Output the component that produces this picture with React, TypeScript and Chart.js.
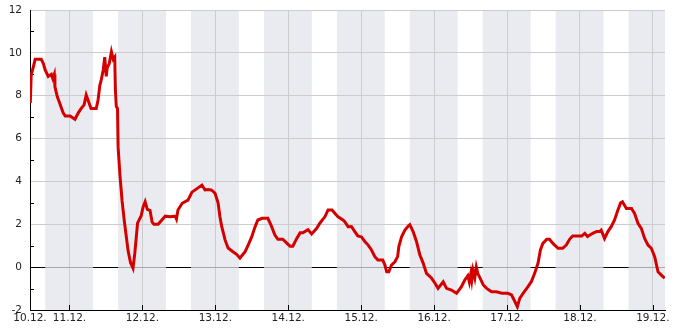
import React, { useEffect, useRef } from 'react';
import { Chart, registerables } from 'chart.js';

Chart.register(...registerables);

// time in hours from 10.12. 00:00
const hours = [
  11.1, 11.4, 12.1, 12.7, 14.7, 15.4, 16.0, 17.0, 18.0, 18.5, 19.0, 19.2, 20.0, 20.9, 21.9, 22.6,
  24.2, 25.8, 26.9, 27.8, 28.8, 29.5, 30.7, 31.1, 32.8, 33.4, 34.0, 34.4, 35.1, 35.6, 36.1, 36.4,
  37.1, 37.8, 38.4, 38.9, 39.1, 39.4, 39.8, 40.0, 40.6, 41.3, 42.0, 42.7, 43.3, 44.1, 44.9, 45.5,
  46.4, 47.6, 48.2, 48.9, 49.6, 50.5, 51.2, 51.8, 53.2, 54.4, 55.5, 57.1, 58.8, 59.2, 59.7, 61.1,
  63.0, 64.3, 66.3, 67.6, 68.6, 69.6, 70.6, 71.2, 71.9, 72.9, 73.5, 74.1, 75.2, 76.2, 77.8, 79.0,
  80.1, 81.1, 81.8, 82.8, 84.0, 85.1, 86.0, 87.4, 89.3, 90.5, 91.6, 92.6, 94.2, 95.5, 96.6, 97.5,
  98.8, 99.9, 100.8, 102.5, 103.7, 105.3, 106.4, 108.1, 109.1, 110.4, 111.4, 112.3, 114.0, 114.6,
  115.7, 116.8, 117.9, 118.9, 120.1, 121.2, 122.3, 123.4, 124.5, 125.5, 127.1, 127.8, 128.4, 129.1,
  130.0, 131.1, 132.0, 132.4, 133.3, 134.4, 135.5, 136.0, 137.1, 138.2, 139.3, 140.4, 141.5, 143.2,
  144.3, 145.3, 147.0, 148.1, 149.7, 151.4, 153.0, 154.1, 155.1, 155.6, 156.1, 156.4, 156.8, 157.4,
  157.9, 158.4, 159.1, 160.2, 161.3, 162.9, 164.5, 166.3, 168.3, 169.5, 170.6, 171.4, 172.2, 173.3,
  174.9, 176.0, 177.1, 178.2, 179.0, 179.8, 181.1, 182.0, 183.1, 184.8, 186.3, 187.5, 188.6, 189.6,
  192.6, 193.6, 194.5, 196.2, 197.5, 198.5, 199.0, 200.1, 201.2, 202.3, 203.4, 204.5, 205.4, 206.0,
  207.3, 209.0, 210.0, 211.1, 212.2, 213.3, 214.4, 215.5, 216.6, 217.7, 218.8, 219.9,
];

const values = [
  7.66, 8.97, 9.35, 9.7, 9.7, 9.5, 9.2, 8.9, 9.0, 8.8, 9.0, 8.42, 7.95, 7.6, 7.2, 7.05,
  7.05, 6.9, 7.2, 7.4, 7.57, 8.03, 7.55, 7.4, 7.4, 7.8, 8.5, 8.7, 9.2, 9.8, 8.9, 9.3,
  9.5, 10.05, 9.7, 9.8, 8.3, 7.5, 7.4, 5.6, 4.3, 3.1, 2.2, 1.42, 0.75, 0.2, -0.05, 0.65,
  2.05, 2.4, 2.8, 3.05, 2.7, 2.65, 2.1, 2.0, 2.0, 2.2, 2.38, 2.35, 2.38, 2.25, 2.67, 2.98,
  3.13, 3.5, 3.7, 3.83, 3.6, 3.62, 3.6, 3.55, 3.45, 3.0, 2.36, 1.9, 1.27, 0.89, 0.72, 0.6,
  0.42, 0.6, 0.72, 1.03, 1.42, 1.89, 2.2, 2.28, 2.28, 1.9, 1.5, 1.3, 1.3, 1.12, 0.98, 0.98,
  1.34, 1.6, 1.6, 1.75, 1.55, 1.8, 2.05, 2.36, 2.67, 2.67, 2.5, 2.36, 2.2, 2.12,
  1.89, 1.9, 1.66, 1.46, 1.41, 1.2, 1.03, 0.8, 0.49, 0.33, 0.33, 0.1, -0.22, -0.22,
  0.1, 0.25, 0.49, 0.96, 1.42, 1.73, 1.92, 1.98, 1.66, 1.2, 0.58, 0.19, -0.29, -0.52,
  -0.75, -0.99, -0.68, -0.99, -1.07, -1.22, -0.91, -0.6, -0.4, -0.7, -0.3, -0.6, -0.14, -0.5,
  0.0, -0.3, -0.5, -0.83, -0.99, -1.15, -1.15, -1.22, -1.22, -1.3, -1.61, -1.85, -1.46, -1.22,
  -0.91, -0.68, -0.29, 0.18, 0.8, 1.11, 1.3, 1.3, 1.11, 0.88, 0.88, 1.03, 1.3, 1.45,
  1.45, 1.58, 1.43, 1.58, 1.66, 1.66, 1.73, 1.34, 1.66, 1.89, 2.2, 2.67, 3.0, 3.05,
  2.74, 2.74, 2.5, 2.05, 1.81, 1.34, 1.03, 0.88, 0.49, -0.22, -0.37, -0.52,
];

const xTickHours = [11, 24, 48, 72, 96, 120, 144, 168, 192, 216];
const xTickLabels = ['10.12.', '11.12.', '12.12.', '13.12.', '14.12.', '15.12.', '16.12.', '17.12.', '18.12.', '19.12.'];
const yMinorTicks = [-1, 1, 3, 5, 7, 9, 11];
const nightDays = [0, 1, 2, 3, 4, 5, 6, 7, 8, 9];
const nightStartHour = 16;
const nightEndHour = 7.75;

const X_MIN = 11;
const X_MAX = 220;

const bandColor = '#eaebf0';

const bandsPlugin = {
  id: 'nightBands',
  beforeDraw(chart: any) {
    const { ctx, chartArea } = chart;
    const xs = chart.scales.x;
    ctx.save();
    ctx.fillStyle = bandColor;
    nightDays.forEach((d) => {
      const s = Math.max(d * 24 + nightStartHour, X_MIN);
      const e = Math.min((d + 1) * 24 + nightEndHour, X_MAX);
      if (e <= s) return;
      const x1 = xs.getPixelForValue(s);
      const x2 = xs.getPixelForValue(e);
      ctx.fillRect(x1, chartArea.top, x2 - x1, chartArea.bottom - chartArea.top);
    });
    ctx.restore();
  },
  beforeDatasetsDraw(chart: any) {
    const { ctx, chartArea } = chart;
    const xs = chart.scales.x;
    const ys = chart.scales.y;
    ctx.save();
    // zero line appears grey inside the night bands
    const y0 = Math.round(ys.getPixelForValue(0)) + 0.5;
    ctx.strokeStyle = '#a8a8ac';
    ctx.lineWidth = 1;
    nightDays.forEach((d) => {
      const s = Math.max(d * 24 + nightStartHour, X_MIN);
      const e = Math.min((d + 1) * 24 + nightEndHour, X_MAX);
      if (e <= s) return;
      ctx.beginPath();
      ctx.moveTo(xs.getPixelForValue(s), y0);
      ctx.lineTo(xs.getPixelForValue(e), y0);
      ctx.stroke();
    });
    // tick marks drawn inward
    ctx.strokeStyle = '#000';
    ctx.beginPath();
    yMinorTicks.forEach((v) => {
      const y = Math.round(ys.getPixelForValue(v)) + 0.5;
      ctx.moveTo(chartArea.left, y);
      ctx.lineTo(chartArea.left + 4, y);
    });
    xTickHours.slice(1).forEach((h) => {
      const x = Math.round(xs.getPixelForValue(h)) + 0.5;
      ctx.moveTo(x, chartArea.bottom);
      ctx.lineTo(x, chartArea.bottom - 5);
    });
    ctx.stroke();
    ctx.restore();
  },
};

export default function App() {
  const ref = useRef<HTMLCanvasElement>(null);

  useEffect(() => {
    if (!ref.current) return;
    const font = { family: '"DejaVu Sans", sans-serif', size: 10.5 };
    const chart = new Chart(ref.current, {
      type: 'line',
      data: {
        datasets: [
          {
            data: hours.map((h, i) => ({ x: h, y: values[i] })),
            borderColor: '#d40000',
            borderWidth: 3,
            pointRadius: 0,
            tension: 0,
            fill: false,
          },
        ],
      },
      options: {
        animation: false,
        responsive: true,
        maintainAspectRatio: false,
        layout: { padding: { top: 10, right: 20, left: 0, bottom: 0 } },
        plugins: { legend: { display: false }, tooltip: { enabled: false } },
        scales: {
          x: {
            type: 'linear',
            min: X_MIN,
            max: X_MAX,
            afterBuildTicks: (s: any) => {
              s.ticks = xTickHours.map((v) => ({ value: v }));
            },
            afterFit: (s: any) => {
              s.height = 20;
              s.paddingLeft = 0;
              s.paddingRight = 0;
            },
            ticks: {
              autoSkip: false,
              maxRotation: 0,
              padding: 2,
              color: '#222',
              font,
              callback: (_v: any, i: number) => xTickLabels[i],
            },
            grid: {
              drawTicks: false,
              color: (c: any) => (c.tick && c.tick.value === X_MIN ? 'rgba(0,0,0,0)' : '#cccccc'),
            },
            border: { color: '#000', width: 1 },
          },
          y: {
            min: -2,
            max: 12,
            afterFit: (s: any) => {
              s.width = 30;
              s.paddingTop = 0;
              s.paddingBottom = 0;
            },
            ticks: {
              stepSize: 2,
              padding: 8,
              color: '#222',
              font,
            },
            grid: {
              drawTicks: false,
              color: (c: any) => (c.tick && c.tick.value === 0 ? '#000000' : '#cccccc'),
            },
            border: { color: '#000', width: 1 },
          },
        },
      },
      plugins: [bandsPlugin],
    });
    return () => chart.destroy();
  }, []);

  return (
    <div style={{ position: 'absolute', left: 0, top: 0, width: 685, height: 330 }}>
      <canvas ref={ref} />
    </div>
  );
}
